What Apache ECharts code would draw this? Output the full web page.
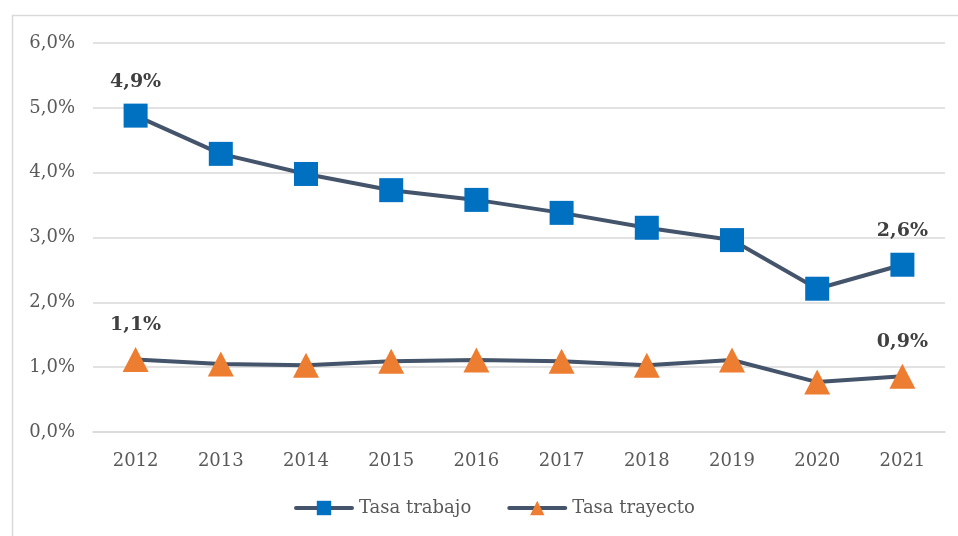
<!DOCTYPE html>
<html>
<head>
<meta charset="utf-8">
<script src="https://cdn.jsdelivr.net/npm/echarts@6/dist/echarts.min.js"></script>
<style>
  html, body { margin: 0; padding: 0; background: #fff; }
  #chart { width: 958px; height: 536px; }
</style>
</head>
<body>
<div id="chart"></div>
<script>
var years = ['2012', '2013', '2014', '2015', '2016', '2017', '2018', '2019', '2020', '2021'];
var tasaTrabajo = [4.88, 4.29, 3.98, 3.73, 3.58, 3.38, 3.15, 2.96, 2.21, 2.58];
var tasaTrayecto = [1.12, 1.05, 1.03, 1.09, 1.11, 1.09, 1.03, 1.11, 0.77, 0.86];

var FONT = '"DejaVu Serif", serif';

function pct(v) {
    return v.toFixed(1).replace('.', ',') + '%';
}

// only first and last points carry a label
function withEndLabels(values) {
    return values.map(function (v, i) {
        return {
            value: v,
            label: { show: i === 0 || i === values.length - 1 }
        };
    });
}

var labelStyle = {
    position: 'top',
    distance: 12,
    fontFamily: FONT,
    fontSize: 19,
    fontWeight: 'bold',
    color: '#404040',
    formatter: function (p) { return pct(p.value); }
};

var myChart = echarts.init(document.getElementById('chart'));
myChart.setOption({
    animation: false,
    backgroundColor: '#fff',
    graphic: [{
        type: 'rect',
        left: 10, top: 13,
        shape: { width: 980, height: 560 },
        style: { fill: 'none', stroke: '#d9d9d9', lineWidth: 1.5 },
        silent: true
    }],
    grid: { left: 93, right: 13, top: 43, bottom: 104 },
    legend: {
        bottom: 14,
        left: 289,
        itemWidth: 56,
        itemHeight: 18,
        itemGap: 36,
        lineStyle: { width: 4, cap: 'round' },
        textStyle: { fontFamily: FONT, fontSize: 18, color: '#595959', padding: [0, 0, 0, 2] },
        data: ['Tasa trabajo', 'Tasa trayecto']
    },
    xAxis: {
        type: 'category',
        data: years,
        boundaryGap: true,
        axisLine: { lineStyle: { color: '#d9d9d9', width: 1.5 } },
        axisTick: { show: false },
        axisLabel: { margin: 20, fontFamily: FONT, fontSize: 18, color: '#595959' }
    },
    yAxis: {
        type: 'value',
        min: 0, max: 6, interval: 1,
        axisLine: { show: false },
        axisTick: { show: false },
        splitLine: { lineStyle: { color: '#d9d9d9', width: 1.5 } },
        axisLabel: {
            margin: 18, fontFamily: FONT, fontSize: 18, color: '#595959',
            formatter: pct
        }
    },
    series: [{
        name: 'Tasa trabajo',
        type: 'line',
        data: withEndLabels(tasaTrabajo),
        symbol: 'rect',
        symbolSize: 24,
        lineStyle: { color: '#44546a', width: 4 },
        itemStyle: { color: '#0070c0', borderWidth: 0 },
        label: labelStyle
    }, {
        name: 'Tasa trayecto',
        type: 'line',
        data: withEndLabels(tasaTrayecto),
        symbol: 'triangle',
        symbolSize: [26, 25],
        lineStyle: { color: '#44546a', width: 4 },
        itemStyle: { color: '#ed7d31', borderWidth: 0 },
        label: labelStyle
    }]
});
</script>
</body>
</html>
